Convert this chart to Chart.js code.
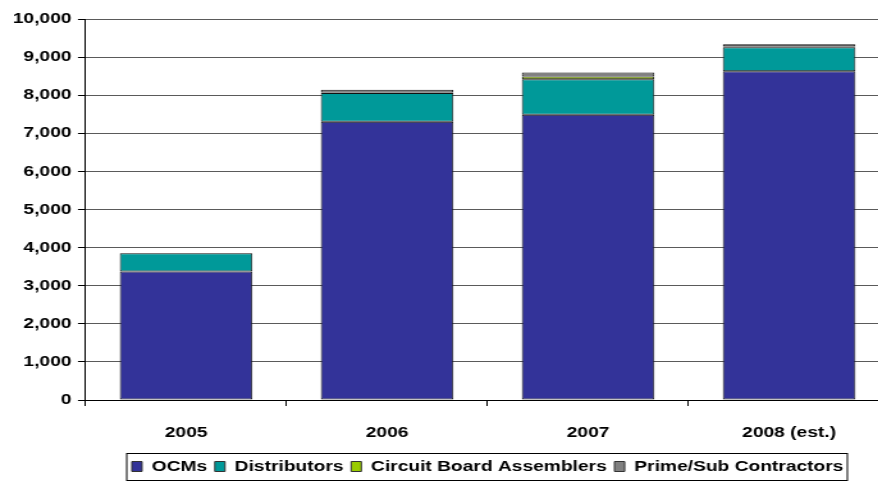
<!DOCTYPE html>
<html>
<head>
<meta charset="utf-8">
<script src="https://cdn.jsdelivr.net/npm/chart.js@4/dist/chart.umd.min.js"></script>
<style>
  html, body { margin: 0; padding: 0; background: #fff; overflow: hidden; }
  /* chart is laid out narrow and stretched sideways, like the original export */
  #wrap {
    position: relative;
    width: 695px;
    height: 481px;
    transform: scaleX(1.28);
    transform-origin: 0 0;
  }
</style>
</head>
<body>
<div id="wrap"><canvas id="chart"></canvas></div>
<script>
// Customer segments by year (stacked)
const years = ['2005', '2006', '2007', '2008 (est.)'];
const ocms = [3370, 7300, 7490, 8630];
const distributors = [480, 760, 930, 630];
const boardAssemblers = [0, 10, 70, 20];
const primeSub = [0, 70, 105, 60];
const yTicks = [0, 1000, 2000, 3000, 4000, 5000, 6000, 7000, 8000, 9000, 10000];

const colors = {
    ocms: '#333399',
    distributors: '#009999',
    boardAssemblers: '#99cc00',
    primeSub: '#808080',
    border: '#111',
    grid: '#5a5a5a'
};

Chart.defaults.font.family = "'Liberation Sans', Arial, sans-serif";
Chart.defaults.font.size = 15;
Chart.defaults.font.weight = 'bold';
Chart.defaults.color = '#000';

const series = (label, data, color) => ({
    label,
    data,
    backgroundColor: color,
    borderColor: colors.border,
    borderWidth: 1,
    borderSkipped: false,
    inflateAmount: 0,
    barPercentage: 0.66,
    categoryPercentage: 1.0
});

// frame around the legend items
const legendFrame = {
    id: 'legendFrame',
    afterDraw(chart) {
        const boxes = chart.legend.legendHitBoxes;
        if (!boxes || !boxes.length) return;
        const first = boxes[0], last = boxes[boxes.length - 1];
        const ctx = chart.ctx;
        const cy = first.top + first.height / 2;
        ctx.save();
        ctx.strokeStyle = '#000';
        ctx.lineWidth = 1;
        const x0 = Math.round(first.left) - 4;
        const x1 = Math.round(last.left + last.width) + 3;
        const y0 = Math.round(cy - 13.5) + 0.5;
        ctx.strokeRect(x0, y0, x1 - x0, 27);
        ctx.restore();
    }
};

new Chart(document.getElementById('chart'), {
    type: 'bar',
    data: {
        labels: years,
        datasets: [
            series('OCMs', ocms, colors.ocms),
            series('Distributors', distributors, colors.distributors),
            series('Circuit Board Assemblers', boardAssemblers, colors.boardAssemblers),
            series('Prime/Sub Contractors', primeSub, colors.primeSub)
        ]
    },
    options: {
        responsive: true,
        maintainAspectRatio: false,
        animation: false,
        layout: { padding: { top: 19, left: 5, right: 0, bottom: -3 } },
        plugins: {
            legend: {
                display: true,
                position: 'bottom',
                fullSize: false,
                labels: {
                    boxWidth: 8,
                    boxHeight: 10,
                    padding: 6,
                    font: { size: 15, weight: 'bold' },
                    generateLabels(chart) {
                        return chart.data.datasets.map((ds, i) => ({
                            text: ds.label,
                            fillStyle: ds.backgroundColor,
                            strokeStyle: '#333',
                            lineWidth: 1,
                            datasetIndex: i,
                            hidden: false
                        }));
                    }
                }
            },
            tooltip: { enabled: false }
        },
        scales: {
            x: {
                stacked: true,
                grid: {
                    display: true,
                    offset: true,
                    drawOnChartArea: false,
                    drawTicks: true,
                    tickLength: 6,
                    color: '#000'
                },
                border: { display: true, color: '#000', width: 1 },
                ticks: { padding: 18, font: { size: 15, weight: 'bold' } },
                afterFit: (scale) => { scale.height -= 7; }
            },
            y: {
                stacked: true,
                min: 0,
                max: 10000,
                afterBuildTicks: (axis) => { axis.ticks = yTicks.map(v => ({ value: v })); },
                grid: {
                    color: colors.grid,
                    lineWidth: 1,
                    tickLength: 6,
                    tickColor: '#000'
                },
                border: { display: true, color: '#000', width: 1 },
                ticks: {
                    padding: 5,
                    font: { size: 15, weight: 'bold' },
                    callback: (v) => v.toLocaleString('en-US')
                }
            }
        }
    },
    plugins: [legendFrame]
});
</script>
</body>
</html>
